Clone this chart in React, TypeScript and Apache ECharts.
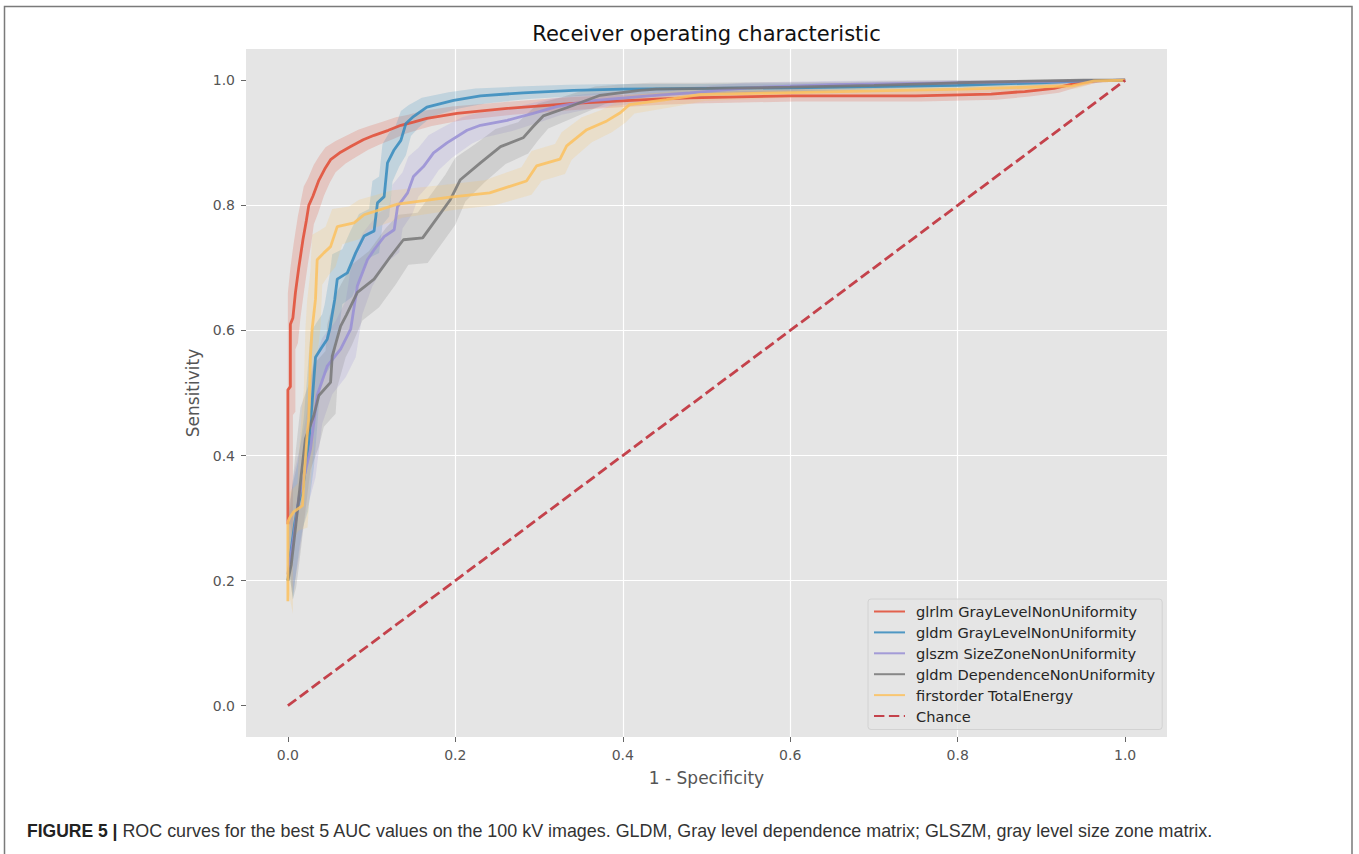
import React, { useEffect, useRef } from "react";
import * as echarts from "echarts";

// ---------- data ----------
const SERIES_NAMES = [
  "glrlm GrayLevelNonUniformity",
  "gldm GrayLevelNonUniformity",
  "glszm SizeZoneNonUniformity",
  "gldm DependenceNonUniformity",
  "firstorder TotalEnergy",
];
const CHANCE_NAME = "Chance";
const AXIS_TICKS = [0, 0.2, 0.4, 0.6, 0.8, 1.0];

// glrlm GrayLevelNonUniformity
const RED_FPR = [0, 0, 0.003, 0.003, 0.006, 0.009, 0.013, 0.018, 0.022, 0.025, 0.03, 0.037, 0.044, 0.051, 0.063, 0.075, 0.09, 0.103, 0.12, 0.135, 0.15, 0.166, 0.202, 0.262, 0.341, 0.44, 0.48, 0.6, 0.75, 0.84, 0.88, 0.915, 0.937, 0.963, 1.0];
const RED_TPR = [0.29, 0.505, 0.51, 0.61, 0.62, 0.66, 0.7, 0.745, 0.775, 0.8, 0.815, 0.84, 0.858, 0.873, 0.885, 0.894, 0.905, 0.912, 0.92, 0.928, 0.933, 0.939, 0.947, 0.955, 0.963, 0.97, 0.972, 0.975, 0.975, 0.978, 0.982, 0.987, 0.994, 0.999, 1.0];
const RED_STD = [0.03, 0.04, 0.04, 0.04, 0.04, 0.04, 0.04, 0.038, 0.035, 0.03, 0.028, 0.025, 0.022, 0.02, 0.018, 0.017, 0.016, 0.015, 0.014, 0.013, 0.012, 0.012, 0.011, 0.01, 0.01, 0.009, 0.009, 0.009, 0.009, 0.009, 0.008, 0.007, 0.005, 0.002, 0];

// gldm GrayLevelNonUniformity
const BLUE_FPR = [0, 0.004, 0.008, 0.012, 0.018, 0.022, 0.025, 0.029, 0.033, 0.04, 0.047, 0.05, 0.056, 0.059, 0.071, 0.081, 0.091, 0.103, 0.107, 0.115, 0.119, 0.127, 0.135, 0.141, 0.15, 0.166, 0.198, 0.23, 0.281, 0.341, 0.4, 0.5, 0.6, 0.7, 0.8, 0.9, 0.95, 1.0];
const BLUE_TPR = [0.2, 0.25, 0.29, 0.32, 0.35, 0.39, 0.42, 0.485, 0.557, 0.572, 0.586, 0.602, 0.65, 0.682, 0.692, 0.724, 0.751, 0.759, 0.804, 0.814, 0.868, 0.889, 0.904, 0.931, 0.942, 0.957, 0.968, 0.975, 0.98, 0.984, 0.986, 0.987, 0.988, 0.99, 0.992, 0.996, 0.999, 1.0];
const BLUE_STD = [0.03, 0.035, 0.035, 0.035, 0.04, 0.04, 0.04, 0.04, 0.04, 0.04, 0.04, 0.04, 0.04, 0.04, 0.038, 0.036, 0.035, 0.035, 0.035, 0.032, 0.03, 0.027, 0.024, 0.02, 0.018, 0.015, 0.013, 0.012, 0.01, 0.009, 0.008, 0.007, 0.007, 0.006, 0.005, 0.004, 0.002, 0];

// glszm SizeZoneNonUniformity
const PURPLE_FPR = [0, 0.007, 0.013, 0.02, 0.027, 0.035, 0.047, 0.063, 0.075, 0.083, 0.095, 0.103, 0.115, 0.127, 0.131, 0.143, 0.15, 0.162, 0.174, 0.19, 0.214, 0.23, 0.262, 0.293, 0.321, 0.361, 0.42, 0.48, 0.55, 0.65, 0.75, 0.85, 0.95, 1.0];
const PURPLE_TPR = [0.21, 0.27, 0.331, 0.37, 0.41, 0.496, 0.543, 0.57, 0.602, 0.671, 0.713, 0.729, 0.75, 0.761, 0.798, 0.82, 0.846, 0.862, 0.884, 0.9, 0.92, 0.928, 0.936, 0.947, 0.958, 0.967, 0.974, 0.98, 0.988, 0.993, 0.995, 0.997, 0.999, 1.0];
const PURPLE_STD = [0.03, 0.035, 0.04, 0.04, 0.045, 0.045, 0.045, 0.045, 0.045, 0.045, 0.042, 0.04, 0.038, 0.036, 0.035, 0.033, 0.032, 0.03, 0.028, 0.024, 0.021, 0.019, 0.017, 0.015, 0.013, 0.011, 0.01, 0.009, 0.008, 0.006, 0.005, 0.004, 0.002, 0];

// gldm DependenceNonUniformity
const GRAY_FPR = [0, 0.004, 0.0095, 0.0155, 0.021, 0.031, 0.037, 0.051, 0.053, 0.063, 0.07, 0.083, 0.103, 0.123, 0.138, 0.161, 0.174, 0.194, 0.206, 0.23, 0.254, 0.281, 0.293, 0.305, 0.333, 0.373, 0.42, 0.44, 0.5, 0.6, 0.7, 0.8, 0.9, 0.95, 1.0];
const GRAY_TPR = [0.2, 0.225, 0.289, 0.363, 0.427, 0.464, 0.496, 0.517, 0.559, 0.607, 0.625, 0.661, 0.682, 0.719, 0.745, 0.748, 0.772, 0.809, 0.841, 0.868, 0.894, 0.908, 0.926, 0.943, 0.956, 0.976, 0.984, 0.986, 0.987, 0.989, 0.992, 0.996, 0.999, 1.0, 1.0];
const GRAY_STD = [0.03, 0.035, 0.04, 0.045, 0.05, 0.05, 0.05, 0.05, 0.05, 0.05, 0.05, 0.045, 0.045, 0.045, 0.04, 0.04, 0.04, 0.04, 0.035, 0.03, 0.028, 0.025, 0.022, 0.02, 0.017, 0.014, 0.011, 0.01, 0.009, 0.008, 0.006, 0.005, 0.002, 0, 0];

// firstorder TotalEnergy
const YELLOW_FPR = [0, 0, 0.002, 0.007, 0.0175, 0.019, 0.023, 0.025, 0.027, 0.029, 0.033, 0.035, 0.043, 0.051, 0.059, 0.079, 0.091, 0.131, 0.194, 0.241, 0.285, 0.297, 0.325, 0.333, 0.357, 0.381, 0.397, 0.408, 0.452, 0.492, 0.59, 0.7, 0.807, 0.937, 0.963, 1.0];
const YELLOW_TPR = [0.167, 0.294, 0.3, 0.31, 0.32, 0.358, 0.432, 0.459, 0.559, 0.602, 0.65, 0.713, 0.724, 0.734, 0.766, 0.772, 0.785, 0.802, 0.813, 0.82, 0.839, 0.863, 0.874, 0.895, 0.921, 0.935, 0.948, 0.961, 0.969, 0.977, 0.98, 0.983, 0.986, 0.991, 0.999, 1.0];
const YELLOW_STD = [0.02, 0.03, 0.03, 0.03, 0.035, 0.04, 0.045, 0.045, 0.045, 0.045, 0.045, 0.04, 0.035, 0.032, 0.028, 0.026, 0.024, 0.022, 0.02, 0.02, 0.022, 0.024, 0.024, 0.022, 0.02, 0.018, 0.016, 0.014, 0.012, 0.01, 0.008, 0.007, 0.006, 0.004, 0.001, 0];

const CHANCE_FPR = [0, 1];
const CHANCE_TPR = [0, 1];

const CURVES = [
  { fpr: RED_FPR, tpr: RED_TPR, std: RED_STD },
  { fpr: BLUE_FPR, tpr: BLUE_TPR, std: BLUE_STD },
  { fpr: PURPLE_FPR, tpr: PURPLE_TPR, std: PURPLE_STD },
  { fpr: GRAY_FPR, tpr: GRAY_TPR, std: GRAY_STD },
  { fpr: YELLOW_FPR, tpr: YELLOW_TPR, std: YELLOW_STD },
];

// ---------- styles ----------
const COLORS = ["#E24A33", "#348ABD", "#988ED5", "#777777", "#FBC15E"];
const CHANCE_COLOR = "#c4424b";
const BAND_HSPREAD = 0.006;
const FONT = "DejaVu Sans";
const LINE_W = 2.8;

function buildOption() {
  const series: any[] = [];

  CURVES.forEach((c, k) => {
    const fill = echarts.color.modifyAlpha(COLORS[k], 0.2);
    series.push({
      type: "custom",
      name: "band" + k,
      silent: true,
      z: 1,
      encode: { x: 0, y: 1 },
      data: c.fpr.map((x, i) => [x, c.tpr[i]]),
      renderItem: (params: any, api: any) => {
        if (params.dataIndex !== 0) return null;
        const upper = c.fpr.map((x, i) =>
          api.coord([Math.max(0, x - BAND_HSPREAD), Math.min(1, c.tpr[i] + c.std[i])])
        );
        const lower = c.fpr
          .map((x, i) =>
            api.coord([Math.min(1, x + BAND_HSPREAD), Math.max(0, c.tpr[i] - c.std[i])])
          )
          .reverse();
        return {
          type: "polygon",
          shape: { points: upper.concat(lower) },
          style: { fill, stroke: "none" },
        };
      },
    });
  });

  CURVES.forEach((c, k) => {
    series.push({
      type: "line",
      name: SERIES_NAMES[k],
      z: 3,
      silent: true,
      showSymbol: false,
      symbol: "none",
      color: COLORS[k],
      lineStyle: { width: LINE_W, color: COLORS[k], opacity: 0.85 },
      data: c.fpr.map((x, i) => [x, c.tpr[i]]),
    });
  });

  series.push({
    type: "line",
    name: CHANCE_NAME,
    z: 4,
    silent: true,
    showSymbol: false,
    symbol: "none",
    color: CHANCE_COLOR,
    lineStyle: { width: LINE_W, color: CHANCE_COLOR, type: [10.4, 4.5] },
    data: CHANCE_FPR.map((x, i) => [x, CHANCE_TPR[i]]),
  });

  const axisCommon = (name: string, nameGap: number, margin: number) => ({
    type: "value",
    min: -0.05,
    max: 1.05,
    name,
    nameLocation: "middle",
    nameGap,
    nameTextStyle: { fontFamily: FONT, fontSize: 17, color: "#555555" },
    axisLine: { show: false, onZero: false },
    axisTick: {
      show: true,
      length: 5,
      customValues: AXIS_TICKS,
      lineStyle: { color: "#666666", width: 1 },
    },
    axisLabel: {
      customValues: AXIS_TICKS,
      formatter: (v: number) => v.toFixed(1),
      margin,
      fontFamily: FONT,
      fontSize: 14,
      color: "#555555",
    },
    splitLine: {
      show: true,
      showMinLine: false,
      showMaxLine: false,
      lineStyle: { color: "#ffffff", width: 1.2 },
    },
  });

  return {
    animation: false,
    backgroundColor: "#ffffff",
    grid: {
      left: 246,
      top: 49,
      width: 921,
      height: 688,
      show: true,
      backgroundColor: "#E5E5E5",
      borderWidth: 0,
      containLabel: false,
    },
    xAxis: axisCommon("1 - Specificity", 32, 11),
    yAxis: axisCommon("Sensitivity", 36, 11),
    legend: {
      data: [...SERIES_NAMES, CHANCE_NAME],
      orient: "vertical",
      left: 868,
      top: 599,
      padding: [5, 7, 6, 5],
      itemWidth: 31,
      itemHeight: 14,
      itemGap: 5.9,
      selectedMode: false,
      itemStyle: { opacity: 0 },
      backgroundColor: "rgba(229,229,229,0.8)",
      borderColor: "#d2d2d2",
      borderWidth: 1,
      borderRadius: 3,
      textStyle: {
        fontFamily: FONT,
        fontSize: 14.6,
        color: "#262626",
        padding: [0, 0, 0, 6],
      },
    },
    graphic: [
      {
        type: "rect",
        silent: true,
        z: -10,
        shape: { x: 4.5, y: 6.5, width: 1347.5, height: 900 },
        style: { fill: "none", stroke: "#7a7a7a", lineWidth: 1.5 },
      },
      {
        type: "text",
        silent: true,
        x: 706.5,
        y: 34,
        style: {
          text: "Receiver operating characteristic",
          fontFamily: FONT,
          fontSize: 21,
          fill: "#111111",
          align: "center",
          verticalAlign: "middle",
        },
      },
      {
        type: "text",
        silent: true,
        x: 27,
        y: 831,
        style: {
          text:
            "{b|FIGURE 5 |} ROC curves for the best 5 AUC values on the 100 kV images. GLDM, Gray level dependence matrix; GLSZM, gray level size zone matrix.",
          fontFamily: "Liberation Sans",
          fontSize: 17.9,
          fill: "#333333",
          align: "left",
          verticalAlign: "middle",
          rich: {
            b: {
              fontFamily: "Liberation Sans",
              fontSize: 17.5,
              fontWeight: "bold",
              fill: "#222222",
            },
          },
        },
      },
    ],
    series,
  };
}

export default function App() {
  const ref = useRef<HTMLDivElement>(null);
  useEffect(() => {
    document.body.style.margin = "0";
    const chart = echarts.init(ref.current!, null, { renderer: "svg" });
    chart.setOption(buildOption() as any);
    return () => chart.dispose();
  }, []);
  return <div ref={ref} style={{ width: 1359, height: 854 }} />;
}
